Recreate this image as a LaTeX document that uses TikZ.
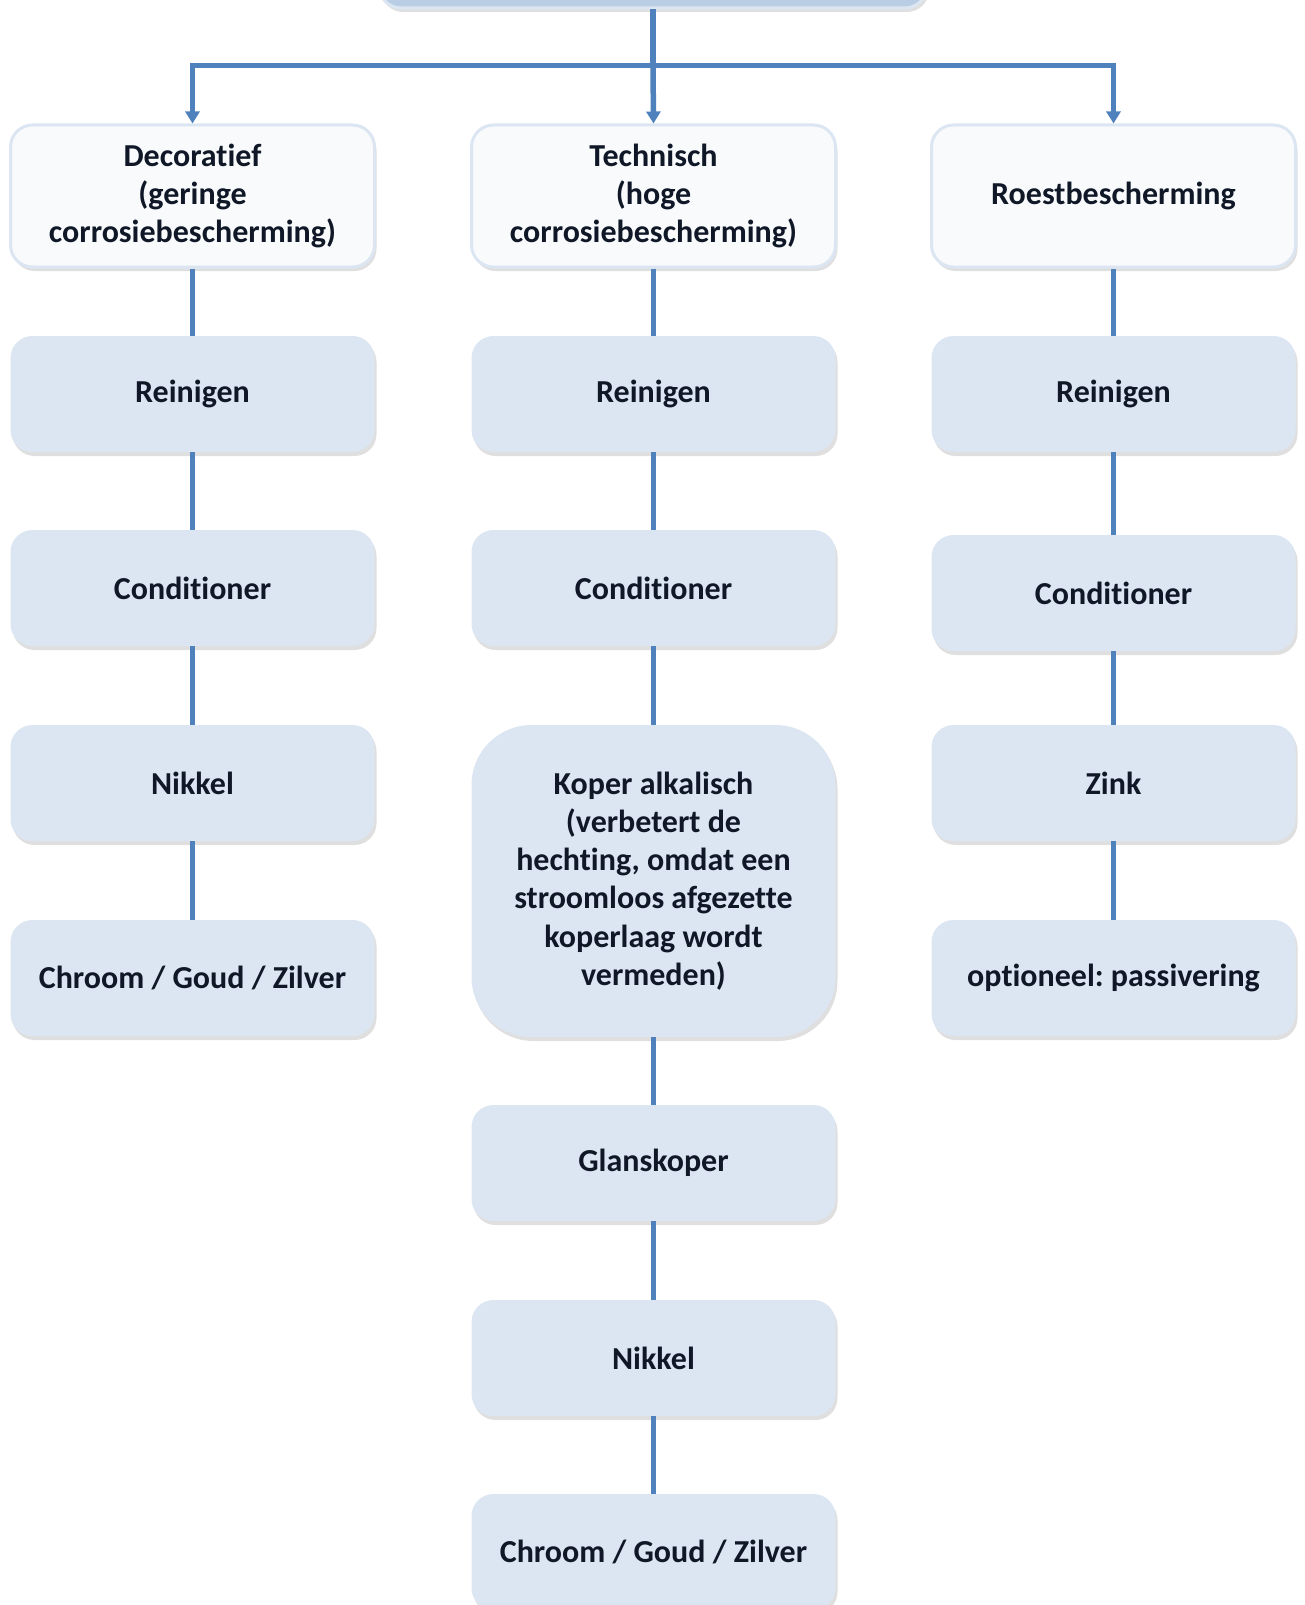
\documentclass[tikz,border=0pt]{standalone}
\usepackage{fontspec}
\setmainfont[Ligatures={NoCommon}]{Carlito}
\usetikzlibrary{arrows.meta,shadows}
\definecolor{boxfill}{HTML}{DCE6F2}
\definecolor{topfill}{HTML}{B9CDE5}
\definecolor{headfill}{HTML}{F8FAFC}
\definecolor{linecol}{HTML}{4F81BD}
\definecolor{txt}{HTML}{101828}
\frenchspacing
\tikzset{
  box/.style={rectangle, rounded corners=22pt, fill=boxfill, draw=none,
    minimum width=364pt, minimum height=116pt, align=center,
    text=txt, font=\fontsize{32}{38.3}\selectfont\bfseries, inner sep=0pt,
    drop shadow={shadow xshift=2pt, shadow yshift=-4pt, opacity=0.25}},
  headbox/.style={box, fill=headfill, draw=boxfill, line width=3pt, minimum height=142pt},
  bigbox/.style={box, rounded corners=60pt, minimum height=312pt},
  topbox/.style={box, fill=topfill, draw=boxfill, line width=3pt, minimum width=548pt, minimum height=100pt},
  conn/.style={draw=linecol, line width=5.5pt},
  arr/.style={conn, -{Triangle[width=14pt,length=12pt]}}
}
\begin{document}
\begin{tikzpicture}[x=1pt,y=-1pt]
\useasboundingbox (0,0) rectangle (1304,1605);
\node[topbox] (top) at (653,-42) {};
% head row
\node[headbox] (dec) at (192.5,196) {Decoratief\\(geringe\\corrosiebescherming)};
\node[headbox] (tec) at (653.5,196) {Technisch\\(hoge\\corrosiebescherming)};
\node[headbox] (roe) at (1113.5,196) {Roestbescherming};
% left column
\node[box] (l1) at (192.5,394) {Reinigen};
\node[box] (l2) at (192.5,588) {Conditioner};
\node[box] (l3) at (192.5,783) {Nikkel};
\node[box] (l4) at (192.5,978) {Chroom / Goud / Zilver};
% middle column
\node[box] (m1) at (653.5,394) {Reinigen};
\node[box] (m2) at (653.5,588) {Conditioner};
\node[bigbox] (m3) at (653.5,881) {Koper alkalisch\\(verbetert de\\hechting, omdat een\\stroomloos afgezette\\koperlaag wordt\\vermeden)};
\node[box] (m4) at (653.5,1163) {Glanskoper};
\node[box] (m5) at (653.5,1358) {Nikkel};
\node[box] (m6) at (653.5,1552) {Chroom / Goud / Zilver};
% right column
\node[box] (r1) at (1113.5,394) {Reinigen};
\node[box] (r2) at (1113.5,593) {Conditioner};
\node[box] (r3) at (1113.5,783) {Zink};
\node[box] (r4) at (1113.5,978) {optioneel: passivering};
% connectors from top
\coordinate (split) at (653,65.5);
\draw[conn] (top.south) -- (split);
\draw[arr] (split) -- (tec.north);
\draw[arr] (split) -| (dec.north);
\draw[arr] (split) -| (roe.north);
% vertical links
\foreach \a/\b in {dec/l1,l1/l2,l2/l3,l3/l4,tec/m1,m1/m2,m2/m3,m3/m4,m4/m5,m5/m6,roe/r1,r1/r2,r2/r3,r3/r4}
  \draw[conn] (\a.south) -- (\b.north);
\end{tikzpicture}
\end{document}
